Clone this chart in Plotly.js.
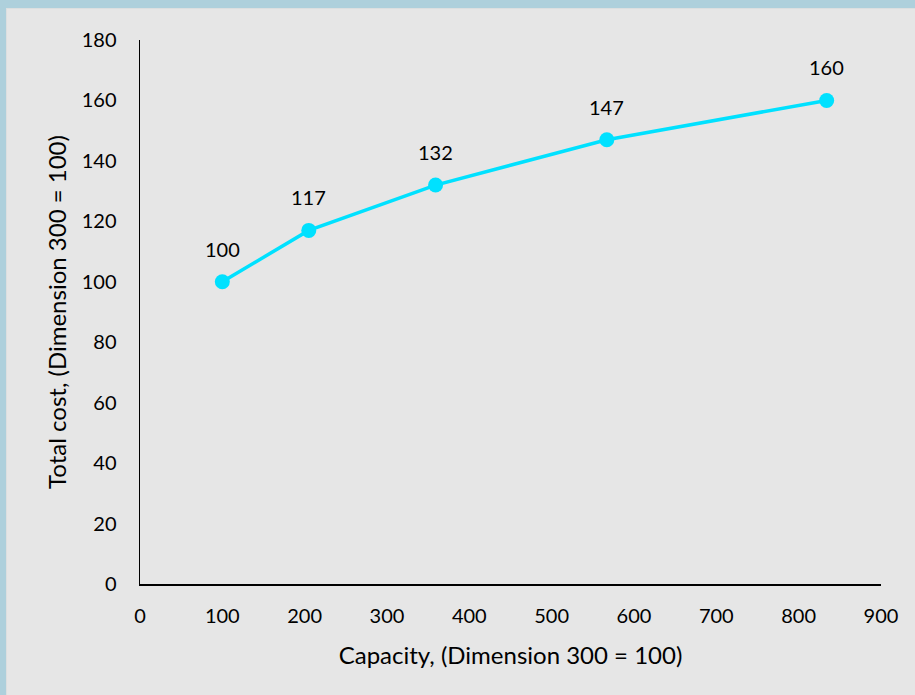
<!DOCTYPE html>
<html>
<head>
<meta charset="utf-8">
<script src="https://cdn.plot.ly/plotly-3.0.1.min.js"></script>
<style>
  html, body { margin: 0; padding: 0; background: #aed0dc; width: 915px; height: 695px; overflow: hidden; }
  #frame { position: absolute; left: 6px; top: 8px; width: 909px; height: 687px; background: #dcdfe0; }
  #chart { position: absolute; left: 1px; top: 1px; width: 908px; height: 686px; }
</style>
</head>
<body>
<div id="frame"><div id="chart"></div></div>
<script>
// Capacity index and total cost index (dimension 300 = 100)
const capacity = [100, 205, 359, 567, 834];
const totalCost = [100, 117, 132, 147, 160];
const xTicks = [0, 100, 200, 300, 400, 500, 600, 700, 800, 900];
const yTicks = [0, 20, 40, 60, 80, 100, 120, 140, 160, 180];

const FONT = 'Lato, sans-serif';
const lineColor = '#00e1ff';

const trace = {
  x: capacity,
  y: totalCost,
  type: 'scatter',
  mode: 'lines+markers',
  line: { color: lineColor, width: 3.5 },
  marker: { color: lineColor, size: 15 },
  hoverinfo: 'x+y',
  showlegend: false
};

// value labels above each point
const labels = capacity.map((cx, i) => ({
  x: cx,
  y: totalCost[i],
  text: String(totalCost[i]),
  showarrow: false,
  xanchor: 'center',
  yanchor: 'bottom',
  yshift: 19,
  font: { family: FONT, size: 20, color: '#000' }
}));

const layout = {
  width: 908,
  height: 686,
  paper_bgcolor: '#e6e6e6',
  plot_bgcolor: '#e6e6e6',
  margin: { l: 133, r: 34, t: 31, b: 111 },
  font: { family: FONT, size: 20, color: '#000' },
  xaxis: {
    range: [0, 900],
    tickvals: xTicks,
    ticktext: xTicks.map(String),
    showgrid: false,
    zeroline: false,
    showline: true,
    linecolor: '#000',
    linewidth: 1.5,
    ticks: '',
    ticklabelstandoff: 13,
    tickfont: { family: FONT, size: 20, color: '#000' },
    title: { text: 'Capacity, (Dimension 300 = 100)', font: { family: FONT, size: 24, color: '#000' }, standoff: 21 }
  },
  yaxis: {
    range: [0, 180],
    tickvals: yTicks,
    ticktext: yTicks.map(String),
    showgrid: false,
    zeroline: false,
    showline: true,
    linecolor: '#000',
    linewidth: 1.5,
    ticks: '',
    ticklabelstandoff: 18,
    tickfont: { family: FONT, size: 20, color: '#000' },
    title: { text: 'Total cost, (Dimension 300 = 100)', font: { family: FONT, size: 24, color: '#000' }, standoff: 8 }
  },
  annotations: labels
};

Plotly.newPlot('chart', [trace], layout, { displayModeBar: false, staticPlot: true });
</script>
</body>
</html>
